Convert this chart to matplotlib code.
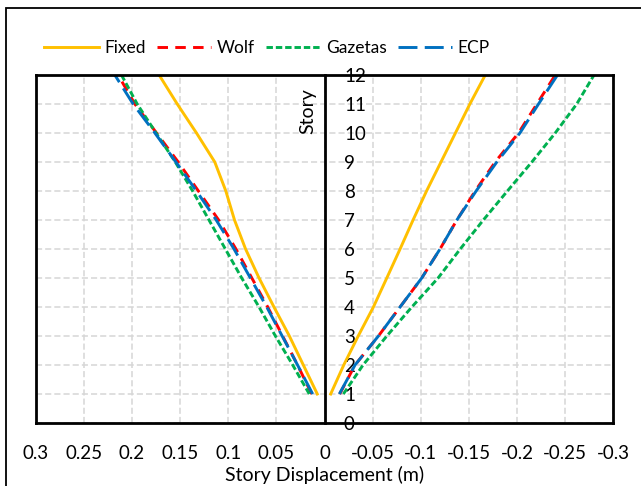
import matplotlib
matplotlib.use("Agg")
import matplotlib.pyplot as plt
from matplotlib.patches import Rectangle
from matplotlib.ticker import FuncFormatter
import numpy as np

plt.rcParams["font.family"] = ["Lato", "DejaVu Sans"]
plt.rcParams["font.size"] = 13.5

# ---------- data: story displacement envelopes (m) ----------
stories = [1, 2, 3, 4, 5, 6, 7, 8, 9, 10, 11, 12]

fixed_pos = [0.0075, 0.022, 0.0365, 0.0525, 0.068, 0.082, 0.0935, 0.1025, 0.114, 0.133, 0.153, 0.1718]
fixed_neg = [-0.0064, -0.020, -0.035, -0.0508, -0.0647, -0.0785, -0.092, -0.106, -0.121, -0.136, -0.151, -0.167]

wolf_pos = [0.0133, 0.028, 0.0435, 0.059, 0.0755, 0.092, 0.110, 0.131, 0.152, 0.1745, 0.197, 0.2144]
wolf_neg = [-0.0158, -0.0317, -0.056, -0.0785, -0.101, -0.120, -0.1375, -0.1565, -0.1773, -0.2015, -0.2206, -0.2397]

gazetas_pos = [0.0158, 0.033, 0.051, 0.068, 0.086, 0.103, 0.120, 0.137, 0.155, 0.175, 0.1946, 0.2109]
gazetas_neg = [-0.0196, -0.040, -0.0647, -0.0907, -0.118, -0.141, -0.165, -0.190, -0.2154, -0.2397, -0.262, -0.280]

ecp_pos = [0.0123, 0.028, 0.044, 0.060, 0.077, 0.094, 0.1125, 0.133, 0.1544, 0.1762, 0.1988, 0.2178]
ecp_neg = [-0.0154, -0.0317, -0.056, -0.0785, -0.101, -0.120, -0.1375, -0.1575, -0.179, -0.203, -0.2223, -0.242]

x_ticks = [0.3, 0.25, 0.2, 0.15, 0.1, 0.05, 0, -0.05, -0.1, -0.15, -0.2, -0.25, -0.3]
y_ticks = [0, 1, 2, 3, 4, 5, 6, 7, 8, 9, 10, 11, 12]

series = [
    ("Fixed", fixed_pos, fixed_neg, "#FFC000", "-"),
    ("Wolf", wolf_pos, wolf_neg, "#FF0000", (0, (3.6, 2.5))),
    ("Gazetas", gazetas_pos, gazetas_neg, "#00B050", (0, (2.2, 1.0))),
    ("ECP", ecp_pos, ecp_neg, "#0070C0", (0, (6.5, 2.5))),
]

fig = plt.figure(figsize=(6.41, 4.86), dpi=100)
ax = fig.add_axes([0.0557, 0.1296, 0.9011, 0.7161])

for name, pos, neg, color, ls in series:
    ax.plot(pos, stories, color=color, ls=ls, lw=2.1, label=name)
    ax.plot(neg, stories, color=color, ls=ls, lw=2.1)

ax.set_xlim(0.3, -0.3)
ax.set_ylim(0, 12)
ax.set_xticks(x_ticks)
ax.set_yticks(y_ticks)
ax.xaxis.set_major_formatter(FuncFormatter(lambda v, _: f"{round(v, 2):g}"))

# story axis sits on the zero displacement line, labels to its right
ax.spines["right"].set_position(("data", 0))
ax.yaxis.tick_right()
for sp in ax.spines.values():
    sp.set_linewidth(2)
    sp.set_color("black")
ax.axvline(-0.3, color="black", lw=2, clip_on=False, zorder=5)

ax.tick_params(axis="both", length=0)
ax.tick_params(axis="x", pad=15.5)
ax.tick_params(axis="y", pad=14)
for lab in ax.get_yticklabels():
    lab.set_horizontalalignment("left")

ax.grid(True, color="#D6D6D6", ls=(0, (4, 2)), lw=1.1)
ax.set_axisbelow(True)

ax.set_xlabel("Story Displacement (m)", fontsize=14, labelpad=3)
ax.text(0.472, 0.897, "Story", transform=ax.transAxes, rotation=90,
        ha="center", va="center", fontsize=14)

fig.legend(loc="center", bbox_to_anchor=(267 / 641, 1 - 48 / 486), ncol=4,
           frameon=False, fontsize=12.5, handlelength=3.15, handletextpad=0.32,
           columnspacing=0.62)

# chart area outline
fig.add_artist(Rectangle((6 / 641, -0.1), 1.2, 1 - 8 / 486 + 0.1,
                         transform=fig.transFigure, fill=False,
                         edgecolor="black", lw=1.3))

fig.savefig("out.png", dpi=100)
